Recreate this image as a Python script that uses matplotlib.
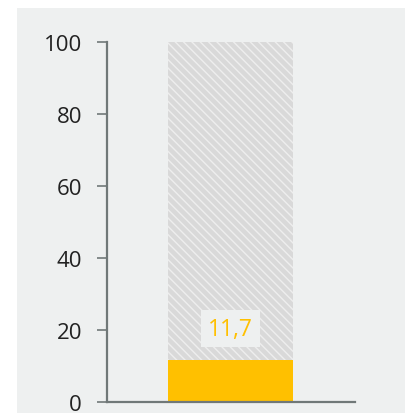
import matplotlib
matplotlib.use("Agg")
from matplotlib import pyplot as plt
from matplotlib.patches import Rectangle

# Данные
categories = [""]
total = [100]
values = [11.7]
value_labels = ["11,7"]
yticks = [0, 20, 40, 60, 80, 100]

plt.rcParams['font.family'] = ['Open Sans', 'DejaVu Sans']
plt.rcParams['hatch.color'] = '#eeeeee'
plt.rcParams['hatch.linewidth'] = 1.0

fig = plt.figure(figsize=(4.06, 4.14), dpi=100)
fig.patch.set_facecolor('white')
# серый фон
bg = Rectangle((17 / 406, 0), 1 - 17 / 406, 1 - 9 / 414,
               transform=fig.transFigure, facecolor='#eef0f0',
               edgecolor='none', zorder=-10)
fig.add_artist(bg)

ax = fig.add_axes([107 / 406, 1 - 403 / 414, 248 / 406, 360 / 414])
ax.set_zorder(5)
ax.set_facecolor('none')

x = list(range(len(categories)))
ax.bar(x, total, width=0.504, color='#d9d9d9', hatch='\\\\\\\\', linewidth=0)
ax.bar(x, values, width=0.504, color='#ffc000', linewidth=0)

for xi, lab in zip(x, value_labels):
    ax.text(xi, 20.4, lab, ha='center', va='center', fontsize=16.5, color='#ffc000',
            bbox=dict(boxstyle='square,pad=0.3', facecolor='#eef0f0', edgecolor='none'))

ax.set_xlim(-0.498, 0.502)
ax.set_ylim(0, 100)
ax.set_yticks(yticks)
ax.set_yticklabels([str(t) for t in yticks])
ax.set_xticks([])
for s in ['top', 'right']:
    ax.spines[s].set_visible(False)
for s in ['left', 'bottom']:
    ax.spines[s].set_color('#707878')
    ax.spines[s].set_linewidth(1.6)
ax.tick_params(axis='y', length=7, width=1.2, color='#707878', labelsize=16,
               labelcolor='#222222', pad=11)

fig.savefig('out.png', dpi=100)
